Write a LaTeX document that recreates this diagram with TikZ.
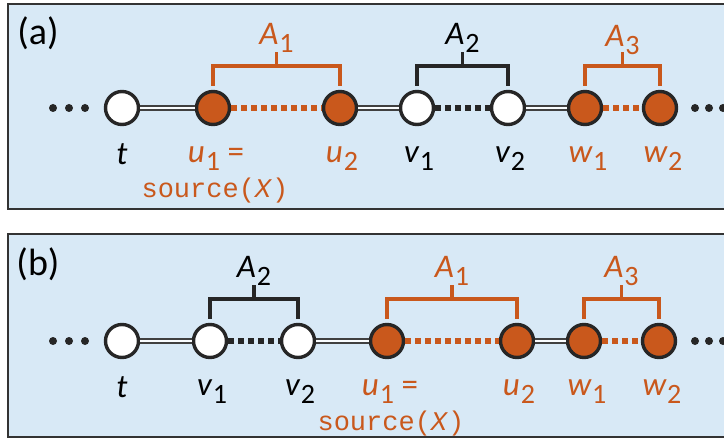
\documentclass[tikz,border=0pt]{standalone}
\usepackage{fontspec}
\setmainfont{Carlito}
\setmonofont{Liberation Mono}
\usetikzlibrary{calc}
\definecolor{bgblue}{HTML}{D8E9F6}
\definecolor{orng}{HTML}{C9581C}
\definecolor{edge}{HTML}{333333}
\newcommand{\lab}[2]{{\itshape #1}\kern0.5pt\raisebox{-0.5ex}{\fontsize{14}{14}\selectfont #2}}
\begin{document}
\begin{tikzpicture}[x=0.5pt,y=-0.5pt,
  panel/.style={draw=edge,line width=1.1pt,fill=bgblue},
  wnode/.style={circle,draw=black!85,line width=1.7pt,fill=white,minimum size=16.5pt,inner sep=0pt},
  onode/.style={wnode,fill=orng},
  dbl/.style={draw=black!75,double=white!85!bgblue,double distance=1.3pt,line width=0.9pt},
  odot/.style={draw=orng,line width=2.8pt,dash pattern=on 3pt off 2pt},
  kdot/.style={draw=black!85,line width=2.8pt,dash pattern=on 3pt off 2pt},
  obrace/.style={draw=orng,line width=1.9pt},
  kbrace/.style={draw=black!85,line width=1.9pt},
  lbl/.style={font=\fontsize{16.5}{16.5}\selectfont,inner sep=0pt},
  olbl/.style={lbl,text=orng},
  src/.style={font=\ttfamily\fontsize{13.5}{13.5}\selectfont,text=orng,inner sep=0pt},
  plab/.style={font=\fontsize{19}{19}\selectfont,inner sep=0pt},
  dotmark/.style={circle,fill=black!85,minimum size=4pt,inner sep=0pt}]
\useasboundingbox (0,0) rectangle (724,444);
\fill[white] (0,0) rectangle (724,444);
% panels
\path[panel] (8,4) rectangle (730,209);
\path[panel] (8,234) rectangle (730,437);
\node[plab] (pa) at (38,33) {(a)};
\node[plab] (pb) at (38,264) {(b)};

% ---------- panel (a) ----------
\foreach \x/\n in {53/1,69/2,85/3} \node[dotmark] (adl\n) at (\x,108) {};
\foreach \x/\n in {695/1,709/2,723/3} \node[dotmark] (adr\n) at (\x,108) {};
\node[wnode] (at) at (122,108) {};
\node[onode] (au1) at (213,108) {};
\node[onode] (au2) at (340,108) {};
\node[wnode] (av1) at (417,108) {};
\node[wnode] (av2) at (508,108) {};
\node[onode] (aw1) at (585,108) {};
\node[onode] (aw2) at (660,108) {};
\draw[dbl] (at) -- (au1);
\draw[odot] (au1) -- (au2);
\draw[dbl] (au2) -- (av1);
\draw[kdot] (av1) -- (av2);
\draw[dbl] (av2) -- (aw1);
\draw[odot] (aw1) -- (aw2);
% labels
\node[lbl] (atl) at (122,154) {\itshape t};
\node[olbl] (au1l) at (216,159) {\lab{u}{1} =};
\node[src] (asrc) at (215,191) {source(\textit{X})};
\node[olbl] (au2l) at (342,159) {\lab{u}{2}};
\node[lbl] (av1l) at (419,159) {\lab{v}{1}};
\node[lbl] (av2l) at (510,159) {\lab{v}{2}};
\node[olbl] (aw1l) at (588,159) {\lab{w}{1}};
\node[olbl] (aw2l) at (663,159) {\lab{w}{2}};
% braces
\draw[obrace] ([yshift=2pt]au1.north) -- ++(0,-20) -| ([yshift=2pt]au2.north);
\coordinate (ab1) at ($(au1.north)!0.5!(au2.north)+(0,-24)$);
\draw[obrace] (ab1) -- ++(0,-14);
\node[olbl] (aA1) at ($(ab1)+(0,-28)$) {\lab{A}{1}};
\draw[kbrace] ([yshift=2pt]av1.north) -- ++(0,-20) -| ([yshift=2pt]av2.north);
\coordinate (ab2) at ($(av1.north)!0.5!(av2.north)+(0,-24)$);
\draw[kbrace] (ab2) -- ++(0,-14);
\node[lbl] (aA2) at ($(ab2)+(0,-28)$) {\lab{A}{2}};
\draw[obrace] ([yshift=2pt]aw1.north) -- ++(0,-20) -| ([yshift=2pt]aw2.north);
\coordinate (ab3) at ($(aw1.north)!0.5!(aw2.north)+(0,-24)$);
\draw[obrace] (ab3) -- ++(0,-14);
\node[olbl] (aA3) at ($(ab3)+(0,-26)$) {\lab{A}{3}};

% ---------- panel (b) ----------
\foreach \x/\n in {53/1,69/2,85/3} \node[dotmark] (bdl\n) at (\x,341) {};
\foreach \x/\n in {695/1,709/2,723/3} \node[dotmark] (bdr\n) at (\x,341) {};
\node[wnode] (bt) at (122,341) {};
\node[wnode] (bv1) at (210,341) {};
\node[wnode] (bv2) at (298,341) {};
\node[onode] (bu1) at (387,341) {};
\node[onode] (bu2) at (517,341) {};
\node[onode] (bw1) at (584,341) {};
\node[onode] (bw2) at (659,341) {};
\draw[dbl] (bt) -- (bv1);
\draw[kdot] (bv1) -- (bv2);
\draw[dbl] (bv2) -- (bu1);
\draw[odot] (bu1) -- (bu2);
\draw[dbl] (bu2) -- (bw1);
\draw[odot] (bw1) -- (bw2);
% labels
\node[lbl] (btl) at (122,387) {\itshape t};
\node[lbl] (bv1l) at (212,392) {\lab{v}{1}};
\node[lbl] (bv2l) at (300,392) {\lab{v}{2}};
\node[olbl] (bu1l) at (390,392) {\lab{u}{1} =};
\node[src] (bsrc) at (391,424) {source(\textit{X})};
\node[olbl] (bu2l) at (519,392) {\lab{u}{2}};
\node[olbl] (bw1l) at (587,392) {\lab{w}{1}};
\node[olbl] (bw2l) at (662,392) {\lab{w}{2}};
% braces
\draw[kbrace] ([yshift=2pt]bv1.north) -- ++(0,-20) -| ([yshift=2pt]bv2.north);
\coordinate (bb2) at ($(bv1.north)!0.5!(bv2.north)+(0,-24)$);
\draw[kbrace] (bb2) -- ++(0,-14);
\node[lbl] (bA2) at ($(bb2)+(0,-28)$) {\lab{A}{2}};
\draw[obrace] ([yshift=2pt]bu1.north) -- ++(0,-20) -| ([yshift=2pt]bu2.north);
\coordinate (bb1) at ($(bu1.north)!0.5!(bu2.north)+(0,-24)$);
\draw[obrace] (bb1) -- ++(0,-14);
\node[olbl] (bA1) at ($(bb1)+(0,-28)$) {\lab{A}{1}};
\draw[obrace] ([yshift=2pt]bw1.north) -- ++(0,-20) -| ([yshift=2pt]bw2.north);
\coordinate (bb3) at ($(bw1.north)!0.5!(bw2.north)+(0,-24)$);
\draw[obrace] (bb3) -- ++(0,-14);
\node[olbl] (bA3) at ($(bb3)+(0,-28)$) {\lab{A}{3}};
\end{tikzpicture}
\end{document}
